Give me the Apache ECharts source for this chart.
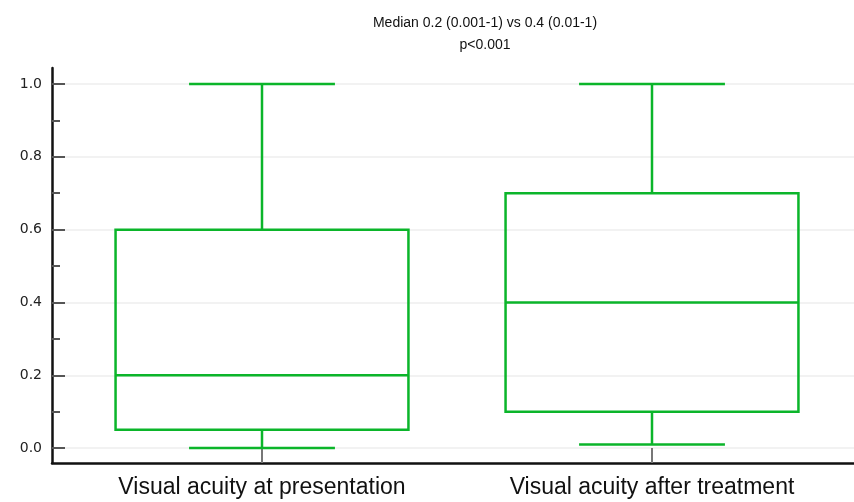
<!DOCTYPE html>
<html>
<head>
<meta charset="utf-8">
<script src="https://cdn.jsdelivr.net/npm/echarts@6/dist/echarts.min.js"></script>
<style>html,body{margin:0;padding:0;background:#fff;}#c{width:854px;height:502px;}</style>
</head>
<body>
<div id="c"></div>
<script>
const categories = ['Visual acuity at presentation', 'Visual acuity after treatment'];
const lowWhisker = [0.0, 0.01];
const q1 = [0.05, 0.1];
const median = [0.2, 0.4];
const q3 = [0.6, 0.7];
const highWhisker = [1.0, 1.0];
const yMajorTicks = [0, 0.2, 0.4, 0.6, 0.8, 1.0];
const yMinorTicks = [0.1, 0.3, 0.5, 0.7, 0.9];
const titleLines = ['Median 0.2 (0.001-1) vs 0.4 (0.01-1)', 'p<0.001'];

const GREEN = '#0bb52a';
const data = categories.map((c, i) => [i + 1, lowWhisker[i], q1[i], median[i], q3[i], highWhisker[i]]);

const chart = echarts.init(document.getElementById('c'));
chart.setOption({
  animation: false,
  title: {
    text: titleLines.join('\n'),
    left: 480, textAlign: 'center', top: 7,
    textStyle: { fontFamily: 'Liberation Sans', fontSize: 14, fontWeight: 'normal', color: '#111', lineHeight: 22 }
  },
  grid: { left: 52, right: 0, top: 68, bottom: 39 },
  xAxis: {
    type: 'value',
    min: 1 - 210 / 390, max: 2 + 202 / 390,
    axisLine: { onZero: false, lineStyle: { color: '#111', width: 2.5 } },
    axisTick: { show: true, inside: true, length: 15, customValues: [1, 2], lineStyle: { color: '#777', width: 2 } },
    axisLabel: {
      customValues: [1, 2], margin: 13,
      formatter: v => categories[Math.round(v) - 1],
      fontFamily: 'Liberation Sans', fontSize: 23, color: '#111'
    },
    splitLine: { show: false }
  },
  yAxis: [{
    type: 'value', min: -0.041, max: 1.044,
    axisLine: { show: true, onZero: false, lineStyle: { color: '#111', width: 2.5 } },
    axisTick: { show: true, inside: true, length: 13, customValues: yMajorTicks, lineStyle: { color: '#555', width: 2 } },
    axisLabel: {
      customValues: yMajorTicks, margin: 10,
      formatter: v => v.toFixed(1),
      fontFamily: 'DejaVu Sans', fontSize: 14, color: '#222'
    },
    splitLine: { show: true, lineStyle: { color: '#eeeeee', width: 1.5 } }
  }, {
    type: 'value', min: -0.041, max: 1.044, position: 'left',
    axisLine: { show: false },
    axisTick: { show: true, inside: true, length: 8, customValues: yMinorTicks, lineStyle: { color: '#555', width: 2 } },
    axisLabel: { show: false },
    splitLine: { show: false }
  }],
  series: [{
    type: 'custom',
    clip: false,
    data: data,
    encode: { x: 0, y: [1, 2, 3, 4, 5] },
    renderItem: function (params, api) {
      const x = api.value(0);
      const unit = api.size([1, 0])[0];
      const half = unit * 0.751 / 2;
      const capHalf = unit * 0.374 / 2;
      const px = api.coord([x, 0])[0];
      const yl = api.coord([x, api.value(1)])[1];
      const y1 = api.coord([x, api.value(2)])[1];
      const ym = api.coord([x, api.value(3)])[1];
      const y3 = api.coord([x, api.value(4)])[1];
      const yh = api.coord([x, api.value(5)])[1];
      const st = { stroke: GREEN, lineWidth: 2.5, fill: null };
      return {
        type: 'group',
        children: [
          { type: 'rect', shape: { x: px - half, y: y3, width: half * 2, height: y1 - y3 }, style: st },
          { type: 'line', shape: { x1: px - half, y1: ym, x2: px + half, y2: ym }, style: st },
          { type: 'line', shape: { x1: px, y1: y3, x2: px, y2: yh }, style: st },
          { type: 'line', shape: { x1: px, y1: y1, x2: px, y2: yl }, style: st },
          { type: 'line', shape: { x1: px - capHalf, y1: yh, x2: px + capHalf, y2: yh }, style: st },
          { type: 'line', shape: { x1: px - capHalf, y1: yl, x2: px + capHalf, y2: yl }, style: st }
        ]
      };
    }
  }]
});
</script>
</body>
</html>
